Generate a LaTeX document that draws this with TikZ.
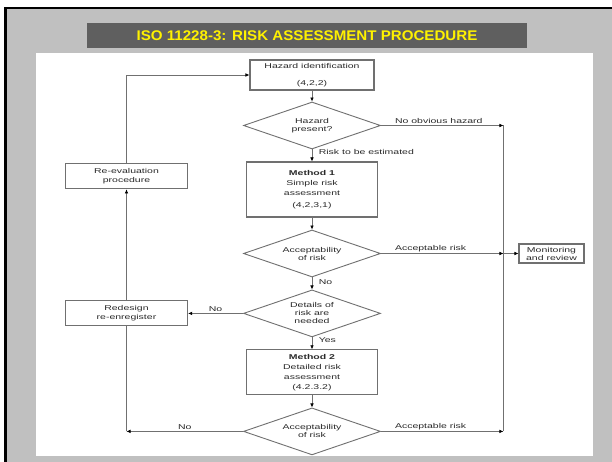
\documentclass[tikz,border=0pt]{standalone}
\usepackage{fontspec}
\usepackage{xcolor}
\usepackage{tikz}
\usetikzlibrary{arrows.meta,positioning,shapes.geometric}
\newfontfamily\flowfont[FakeStretch=1.5]{Liberation Sans}
\newfontfamily\headfont[FakeStretch=1.08]{Liberation Sans}
\definecolor{slide}{HTML}{C0C0C0}
\definecolor{banner}{HTML}{5F5F5F}
\definecolor{edge}{HTML}{707070}
\definecolor{ink}{HTML}{2A2A2A}

\begin{document}
\begin{tikzpicture}[x=1pt,y=-1pt,
node distance=12pt,
box/.style={draw=edge,line width=1.1pt,fill=white,align=center,text=ink,minimum width=131pt,inner sep=1pt,font=\flowfont\fontsize{7}{10}\selectfont},
side/.style={box,minimum width=122pt,minimum height=25pt,font=\flowfont\fontsize{7}{9}\selectfont},
decision/.style={diamond,draw=edge,line width=0.9pt,fill=white,align=center,text=ink,aspect=2.9,minimum width=137pt,minimum height=47pt,inner sep=0pt,font=\flowfont\fontsize{7}{8}\selectfont},
lbl/.style={font=\flowfont\fontsize{7}{8}\selectfont,text=ink,inner sep=1.5pt},
arrow/.style={-{Latex[length=4pt,width=3.5pt,color=black]},line width=0.6pt,draw=edge},
link/.style={line width=0.6pt,draw=edge}]
\useasboundingbox (0,0) rectangle (612,462);
% slide frame
\fill[white] (0,0) rectangle (612,462);
\fill[slide] (5.7,8.2) rectangle (612,462);
\draw[black,line width=2.5pt] (612,8.2) -- (5.7,8.2) -- (5.7,462);
\fill[white] (36,53) rectangle (593,456);
\node[fill=banner,text=yellow,minimum width=440pt,minimum height=25pt,font=\headfont\bfseries\fontsize{14}{16}\selectfont] (title) at (307,35.5) {ISO 11228-3: RISK ASSESSMENT PROCEDURE};
% main column
\node[box,minimum width=124pt,minimum height=30pt] (hazid) at (312,75) {Hazard identification\\[7pt](4,2,2)};
\node[decision,below=11pt of hazid] (hazq) {Hazard\\present?};
\node[box,minimum height=55pt,below=of hazq] (m1) {\textbf{Method 1}\\Simple risk\\assessment\\[2pt](4,2,3,1)};
\node[decision,below=of m1] (acc1) {Acceptability\\of risk};
\node[decision,below=of acc1] (det) {Details of\\risk are\\needed};
\node[box,minimum height=45pt,below=of det] (m2) {\textbf{Method 2}\\Detailed risk\\assessment\\(4.2.3.2)};
\node[decision,below=of m2] (acc2) {Acceptability\\of risk};
% side boxes
\node[side,left=55pt of det] (redo) {Redesign\\re-enregister};
\node[side,above=111pt of redo] (reeval) {Re-evaluation\\procedure};
\node[box,minimum width=65pt,minimum height=19pt,font=\flowfont\fontsize{7}{8}\selectfont,right=137.5pt of acc1] (mon) {Monitoring\\and review};
\coordinate (rmid) at ([xshift=-15pt]mon.west);
\coordinate (rtop) at (rmid |- hazq.east);
\coordinate (rbot) at (rmid |- acc2.east);
\coordinate (ltop) at (redo.north |- hazid.west);
\coordinate (lbot) at (redo.south |- acc2.west);
\draw[arrow] (hazid) -- (hazq);
\draw[arrow] (hazq) -- node[lbl,right,pos=0.25,xshift=5pt]{Risk to be estimated} (m1);
\draw[arrow] (m1) -- (acc1);
\draw[arrow] (acc1) -- node[lbl,right,pos=0.4,xshift=5pt]{No} (det);
\draw[arrow] (det) -- node[lbl,right,pos=0.25,xshift=5pt]{Yes} (m2);
\draw[arrow] (m2) -- (acc2);
\draw[arrow] (hazq.east) -- node[lbl,above right,pos=0.1]{No obvious hazard} (rtop);
\draw[arrow] (acc1.east) -- node[lbl,above right,pos=0.1]{Acceptable risk} (rmid);
\draw[arrow] (acc2.east) -- node[lbl,above right,pos=0.1]{Acceptable risk} (rbot);
\draw[link] (rtop) -- (rbot);
\draw[arrow] (rmid) -- (mon);
\draw[arrow] (reeval.north) -- (ltop) -- (hazid.west);
\draw[arrow] (redo) -- (reeval);
\draw[arrow] (det) -- node[lbl,above]{No} (redo);
\draw[arrow] (acc2) -- node[lbl,above]{No} (lbot);
\draw[link] (lbot) -- (redo);
\end{tikzpicture}
\end{document}
